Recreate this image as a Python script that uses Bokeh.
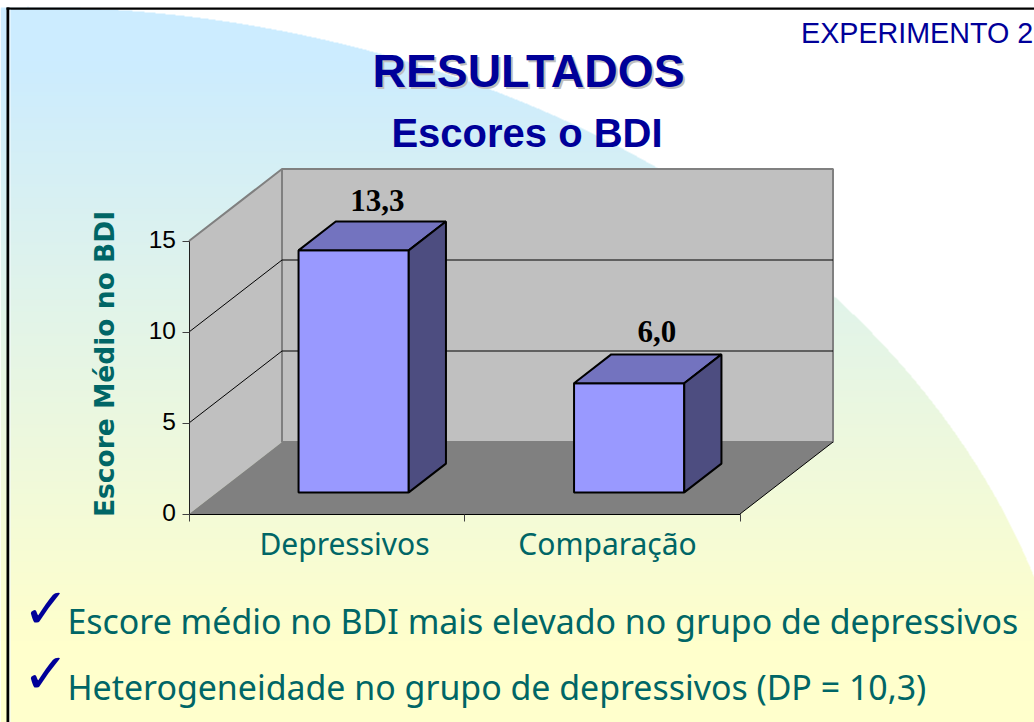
import numpy as np
from bokeh.plotting import figure
from bokeh.models import LinearAxis, FixedTicker, ColumnDataSource
from bokeh.core.properties import value
from bokeh.embed import file_html
from bokeh.resources import INLINE

# ---- data
CATEGORIES = ["Depressivos", "Comparação"]
SCORES = [13.3, 6.0]
SCORE_LABELS = ["13,3", "6,0"]
Y_TICKS = [0, 5, 10, 15]
BULLETS = ["Escore médio no BDI mais elevado no grupo de depressivos",
           "Heterogeneidade no grupo de depressivos (DP = 10,3)"]

W, H = 1034, 722
# scale: value axis and category axis, in page pixels
X0, XU = 188.5, 275.5     # x pixel of category edge 0, pixels per category
Y0, YU = 513.5, 18.2      # y pixel of value 0, pixels per score point
DX, DY = 93.0 / XU, 72.0 / YU   # depth of the 3-D box, in data units
BAR_W, D0, D1 = 0.4, 0.3, 0.7   # bar width, front and back depth fractions
K = 0.35                  # baseline correction of rendered text, in em


def px(x):
    return (x - X0) / XU


def py(y):
    return (Y0 - y) / YU


p = figure(width=W, height=H, output_backend="svg", toolbar_location=None,
           x_range=(px(0), px(W)), y_range=(py(H), py(0)),
           x_axis_location=None, y_axis_location=None, min_border=0,
           background_fill_color="white", border_fill_color="white",
           outline_line_color=None)
p.grid.visible = False

# ---- slide background: vertical gradient inside a large ellipse
yy, xx = np.mgrid[0:H, 0:W]
t = np.clip((yy - 60) / (640 - 60), 0, 1)
top_c = np.array([0xCC, 0xEC, 0xFF])
bot_c = np.array([0xFF, 0xFF, 0xCC])
rgb = top_c[None, None, :] * (1 - t[..., None]) + bot_c[None, None, :] * t[..., None]
inside = ((xx - 27) / 1055.0) ** 2 + ((yy - 821) / 815.0) ** 2 <= 1
img = np.zeros((H, W, 4), dtype=np.uint8)
img[..., :3] = rgb.astype(np.uint8)
img[..., 3] = np.where(inside, 255, 0)
img32 = img[::-1].copy().view(np.uint32).reshape(H, W)
p.image_rgba(image=[img32], x=px(0), y=py(H), dw=px(W) - px(0), dh=py(0) - py(H))

# slide frame
p.quad(left=px(6), right=px(9), bottom=py(H), top=py(7), fill_color="black", line_color=None)
p.quad(left=px(6), right=px(W), bottom=py(9.3), top=py(7), fill_color="black", line_color=None)
p.quad(left=px(9), right=px(10), bottom=py(H), top=py(9.3), fill_color="#f4fbff", line_color=None)

# ---- 3-D box
n = len(CATEGORIES)
vmax = Y_TICKS[-1]
WALL, FLOOR, EDGE = "#C0C0C0", "#808080", "#808080"
p.patch([0, DX, DX, 0], [0, DY, vmax + DY, vmax], fill_color=WALL, line_color=None)
p.quad(left=DX, right=n + DX, bottom=DY, top=vmax + DY, fill_color=WALL, line_color=None)
p.patch([0, n, n + DX, DX], [0, 0, DY, DY], fill_color=FLOOR, line_color=None)
# wall edges
p.line([0, DX, n + DX, n + DX, DX, DX], [vmax, vmax + DY, vmax + DY, DY, DY, vmax + DY],
       line_color=EDGE, line_width=2)
p.line([n, n + DX], [0, DY], line_color="black", line_width=1)
# gridlines
for v in Y_TICKS[1:-1]:
    p.line([0, DX, n + DX], [v, v + DY, v + DY], line_color="black", line_width=1)

# ---- bars
cats = np.arange(n) + 0.5 - 1.0 / XU
scores = np.array(SCORES)
xl = cats - BAR_W / 2
xr = cats + BAR_W / 2
OUT = "black"
p.vbar(x=cats + D0 * DX, width=BAR_W, bottom=D0 * DY, top=scores + D0 * DY,
       fill_color="#9999FF", line_color=OUT, line_width=2)
top_xs = [[a + D0 * DX, b + D0 * DX, b + D1 * DX, a + D1 * DX] for a, b in zip(xl, xr)]
top_ys = [[v + D0 * DY, v + D0 * DY, v + D1 * DY, v + D1 * DY] for v in scores]
p.patches(top_xs, top_ys, fill_color="#7373BF", line_color=OUT, line_width=2)
side_xs = [[b + D0 * DX, b + D1 * DX, b + D1 * DX, b + D0 * DX] for b in xr]
side_ys = [[D0 * DY, D1 * DY, v + D1 * DY, v + D0 * DY] for v in scores]
p.patches(side_xs, side_ys, fill_color="#4D4D80", line_color=OUT, line_width=2)

# value labels
lab = ColumnDataSource(dict(x=cats + (D0 + D1) / 2 * DX, y=scores + D1 * DY, t=SCORE_LABELS,
                            xo=[5, 9], yo=[-21, -23]))
p.text("x", "y", text="t", source=lab, x_offset="xo", y_offset="yo",
       text_font=value("Liberation Serif"), text_font_style="bold", text_font_size="31px",
       text_color="black", text_align="center", text_baseline="alphabetic")

# ---- axes
yaxis = LinearAxis(fixed_location=0, ticker=FixedTicker(ticks=[], minor_ticks=Y_TICKS), bounds=(0, vmax))
yaxis.axis_line_color = "#202020"
yaxis.minor_tick_line_color = "#404040"
yaxis.minor_tick_out = 7
yaxis.minor_tick_in = 0
yaxis.major_tick_out = 0
yaxis.major_tick_in = 0
p.add_layout(yaxis, "left")
p.text([0] * len(Y_TICKS), Y_TICKS, text=[str(v) for v in Y_TICKS], x_offset=-13, y_offset=-2,
       text_font=value("Liberation Sans"), text_font_size="24.5px", text_color="black",
       text_align="right", text_baseline="alphabetic")

label_pos = [px(344), px(607)]
xaxis = LinearAxis(fixed_location=0, bounds=(0, n),
                   ticker=FixedTicker(ticks=label_pos, minor_ticks=list(range(n + 1))),
                   major_label_overrides={float(c): s for c, s in zip(label_pos, CATEGORIES)})
xaxis.axis_line_color = "black"
xaxis.major_tick_out = 0
xaxis.major_tick_in = 0
xaxis.minor_tick_out = 7
xaxis.minor_tick_in = 0
xaxis.minor_tick_line_color = "#404040"
xaxis.major_label_standoff = 2
xaxis.major_label_text_font = "Noto Sans"
xaxis.major_label_text_font_size = "30px"
xaxis.major_label_text_color = "#006666"
p.add_layout(xaxis, "below")


# ---- texts
def put(x, y, s, font, size, color, style="normal", align="left", angle=0.0):
    shift = K * size
    xx_, yy_ = (x - shift, y) if angle else (x, y - shift)
    p.text([px(xx_)], [py(yy_)], text=[s], text_font=value(font), text_font_size=f"{size}px",
           text_font_style=style, text_color=color, text_align=align,
           text_baseline="alphabetic", angle=angle)


NAVY = "#000099"
TEAL = "#006666"
put(530, 89, "RESULTADOS", "Liberation Sans", 46.3, "#BFBFBF", "bold", "center")
put(528, 87, "RESULTADOS", "Liberation Sans", 46.3, NAVY, "bold", "center")
put(526.5, 146, "Escores o BDI", "Liberation Sans", 40, NAVY, "bold", "center")
put(800.5, 42.7, "EXPERIMENTO 2", "Liberation Sans", 28.7, NAVY)
put(113.5, 363.5, "Escore Médio no BDI", "DejaVu Sans", 26.5, TEAL, "bold", "center", np.pi / 2)

put(67, 632.7, BULLETS[0], "Noto Sans", 33.9, TEAL)
put(67, 698, BULLETS[1], "Noto Sans", 33.9, TEAL)
put(22, 628, "✓", "DejaVu Sans", 56, NAVY, "bold")
put(22, 693, "✓", "DejaVu Sans", 56, NAVY, "bold")

open("out.html", "w").write(file_html(p, INLINE))
